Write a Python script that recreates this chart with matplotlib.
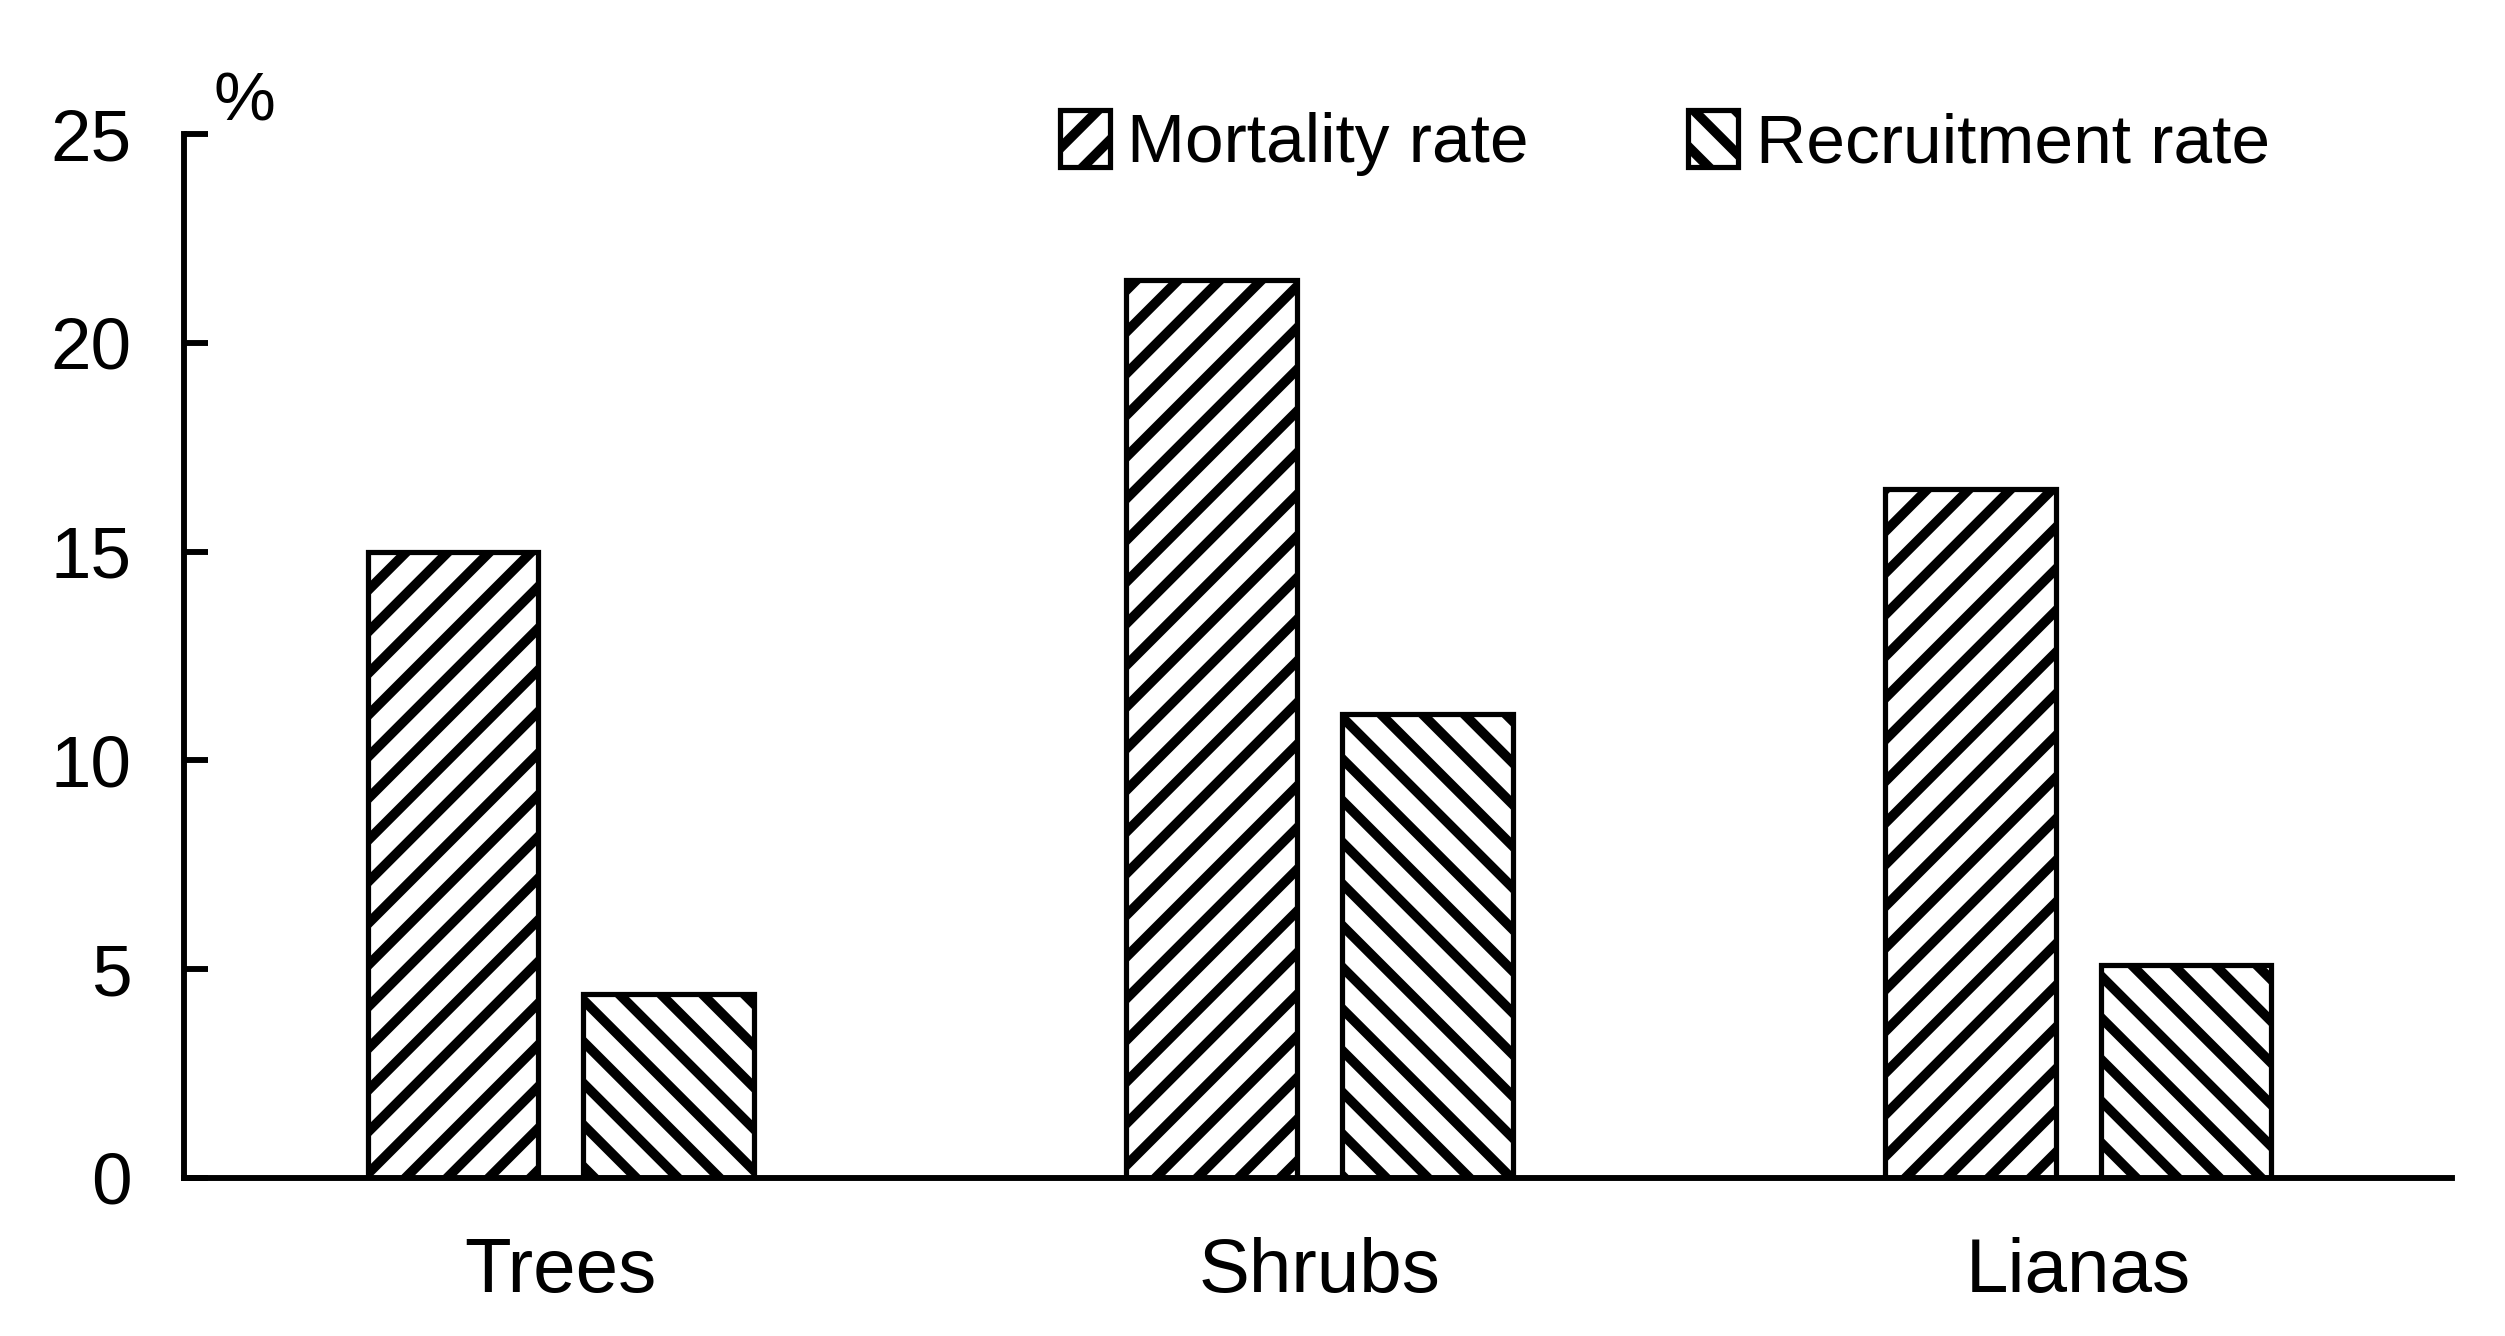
import matplotlib
matplotlib.use("Agg")
import matplotlib.pyplot as plt
from matplotlib.patches import Patch
import numpy as np

plt.rcParams["font.family"] = ["Liberation Sans", "DejaVu Sans"]
plt.rcParams["hatch.linewidth"] = 2.8

# datos
categorias = ["Trees", "Shrubs", "Lianas"]
mortalidad = [15.0, 21.5, 16.5]
reclutamiento = [4.4, 11.1, 5.1]
etiquetas_series = ["Mortality rate", "Recruitment rate"]
ticks_y = [0, 5, 10, 15, 20, 25]

fig = plt.figure(figsize=(10.02, 5.344), dpi=250)
ax = fig.add_axes([0.0733, 0.1184, 0.9057, 0.7813])

x = np.arange(len(categorias))
ancho = 0.225
desp = 0.142

ax.bar(x - desp, mortalidad, ancho, facecolor="white", edgecolor="black",
       linewidth=1.5, hatch="//")
ax.bar(x + desp, reclutamiento, ancho, facecolor="white", edgecolor="black",
       linewidth=1.5, hatch="\\\\")

ax.set_xlim(-0.497, 2.493)
ax.set_ylim(0, 25)
ax.set_yticks(ticks_y)
ax.set_xticks(x)
ax.set_xticklabels(categorias, fontsize=22)
ax.tick_params(axis="y", direction="in", length=7, width=1.7, pad=15, labelsize=21)
ax.tick_params(axis="x", length=0, pad=17)

for lado in ["top", "right"]:
    ax.spines[lado].set_visible(False)
for lado in ["left", "bottom"]:
    ax.spines[lado].set_linewidth(1.7)

ax.text(0.013, 1.0, "%", transform=ax.transAxes, fontsize=20, ha="left", va="bottom")

handles = [Patch(facecolor="white", edgecolor="black", linewidth=1.5, hatch="//"),
           Patch(facecolor="white", edgecolor="black", linewidth=1.5, hatch="\\\\")]
fig.legend(handles, etiquetas_series, loc="upper left", bbox_to_anchor=(0.423, 0.918),
           ncol=2, frameon=False, fontsize=20, handlelength=0.72, handleheight=0.9,
           handletextpad=0.25, columnspacing=2.3, borderpad=0, borderaxespad=0)

plt.savefig("out.png", dpi=250)
